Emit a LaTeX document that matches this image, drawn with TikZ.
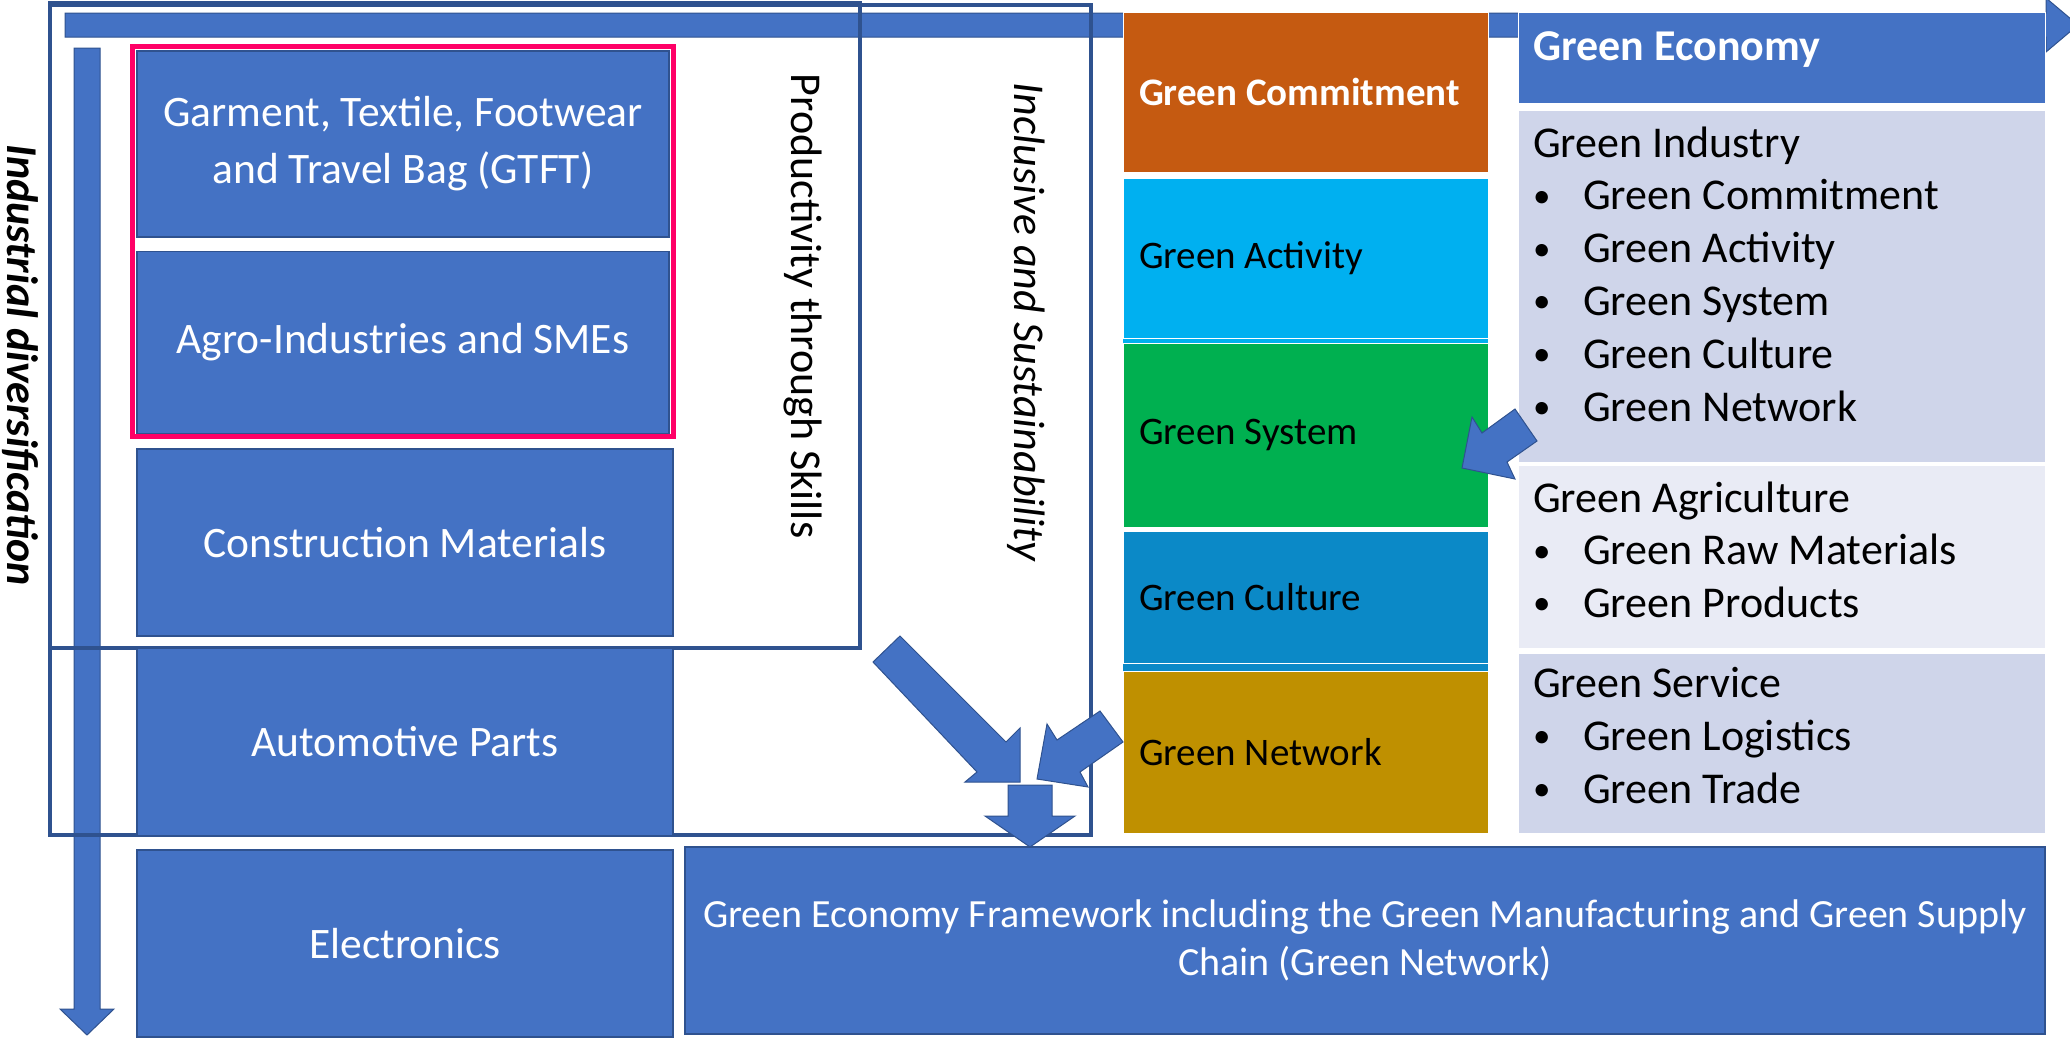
\documentclass[tikz,border=0pt]{standalone}
\usepackage{fontspec}
\setmainfont{Carlito}
\usetikzlibrary{positioning}
\definecolor{bluefill}{HTML}{4472C4}
\definecolor{blueline}{HTML}{2F528F}
\definecolor{pinkline}{HTML}{FF0066}
\definecolor{orangebox}{HTML}{C55A11}
\definecolor{cyanbox}{HTML}{00B0F0}
\definecolor{greenbox}{HTML}{00B050}
\definecolor{culturebox}{HTML}{0B89C7}
\definecolor{goldbox}{HTML}{BF9000}
\definecolor{panelA}{HTML}{CFD5EA}
\definecolor{panelB}{HTML}{E9EBF5}
\newcommand{\listbul}{\makebox[50pt][l]{\raisebox{2.5pt}{\fontsize{35}{35}\selectfont\textbullet}}}

\begin{document}
\begin{tikzpicture}[x=1pt,y=-1pt,
	sector/.style={draw=blueline,line width=1.5pt,fill=bluefill,text=white,align=center,
		font=\fontsize{43.5}{57}\selectfont,minimum width=536pt,minimum height=187pt,inner sep=0pt},
	pillar/.style={draw=white,line width=1pt,text width=333pt,inner xsep=16pt,inner ysep=0pt,
		align=flush left,font=\fontsize{39}{47}\selectfont},
	panel/.style={draw=white,line width=1pt,minimum width=527pt,inner sep=0pt},
	listline/.style={anchor=base west,inner sep=0pt,font=\fontsize{44}{53}\selectfont},
	sidelabel/.style={rotate=-90,inner sep=0pt,font=\fontsize{44}{53}\selectfont},
	frameline/.style={draw=blueline,line width=3.5pt},
	blockarrow/.style={fill=bluefill,draw=blueline,line width=1pt}]
	\useasboundingbox (0,0) rectangle (2070,1037);
	
	% long arrows
	\draw[blockarrow] (65,13) -- (2046,13) -- (2046,-2) -- (2078,25) -- (2046,52) -- (2046,37) -- (65,37) -- cycle;
	\draw[blockarrow] (74,48) -- (100,48) -- (100,1009) -- (114,1009) -- (87,1035) -- (60,1009) -- (74,1009) -- cycle;
	\node[sidelabel,font=\bfseries\itshape\fontsize{44}{53}\selectfont] (diversif) at (20,365) {Industrial diversification};
	
	% frames
	\draw[frameline] (50,3) rectangle (860,648);
	\draw[frameline] (50,5) rectangle (1091,835);
	\node[sidelabel] (skills) at (803,306) {Productivity through Skills};
	\node[sidelabel,font=\itshape\fontsize{44}{53}\selectfont] (inclusive) at (1026,322) {Inclusive and Sustainability};
	
	% sectors
	\node[sector,minimum width=532pt,minimum height=186pt] (gtft) at (403,144) {Garment, Textile, Footwear\\and Travel Bag (GTFT)};
	\node[sector,minimum width=532pt,minimum height=182pt,below=13pt of gtft] (agro) {Agro-Industries and SMEs};
	\draw[draw=pinkline,line width=5pt] (132,46) rectangle (673,436);
	\node[sector] (constr) at (405,542.5) {Construction Materials};
	\node[sector,below=11pt of constr] (auto) {Automotive Parts};
	\node[sector,below=13pt of auto] (elec) {Electronics};
	\node[sector,minimum width=1360pt,font=\fontsize{40}{48}\selectfont] (framework) at (1365,940.5)
		{Green Economy Framework including the Green Manufacturing and Green Supply\\Chain (Green Network)};
	
	% green pillars
	\fill[cyanbox] (1123,336) rectangle (1488,344);
	\fill[culturebox] (1123,661) rectangle (1488,672);
	\node[pillar,fill=orangebox,minimum height=160pt,text=white,font=\bfseries\fontsize{39}{47}\selectfont] (commit) at (1305.5,92) {Green Commitment};
	\node[pillar,fill=cyanbox,minimum height=160pt] (activity) at (1305.5,258) {Green Activity};
	\node[pillar,fill=greenbox,minimum height=184pt] (system) at (1305.5,435) {Green System};
	\node[pillar,fill=culturebox,minimum height=132pt] (culture) at (1305.5,597) {Green Culture};
	\node[pillar,fill=goldbox,minimum height=162pt] (network) at (1305.5,752) {Green Network};
	
	% green economy panels
	\node[panel,fill=bluefill,minimum height=91pt] (economy) at (1781.5,57.5) {};
	\node[panel,fill=panelA,minimum height=352pt] (industry) at (1781.5,286) {};
	\node[panel,fill=panelB,minimum height=183pt] (agri) at (1781.5,556.5) {};
	\node[panel,fill=panelA,minimum height=180pt] (service) at (1781.5,743) {};
	\node[listline,text=white,font=\bfseries\fontsize{44}{53}\selectfont] (ecotitle) at (1533,60) {Green Economy};
	\node[listline] (indtitle) at (1533,157) {Green Industry};
	\foreach \t [count=\i] in {Green Commitment,Green Activity,Green System,Green Culture,Green Network}
	\node[listline] (ind\i) at (1533,{157+52.8*\i}) {\listbul\t};
	\node[listline] (agrititle) at (1533,512) {Green Agriculture};
	\foreach \t [count=\i] in {Green Raw Materials,Green Products}
	\node[listline] (agri\i) at (1533,{512+52.5*\i}) {\listbul\t};
	\node[listline] (servtitle) at (1533,697) {Green Service};
	\foreach \t [count=\i] in {Green Logistics,Green Trade}
	\node[listline] (serv\i) at (1533,{697+53*\i}) {\listbul\t};
	
	% block arrows
	\draw[blockarrow] (873,662) -- (900,636) -- (1006,742) -- (1020,728) -- (1020,782) -- (965,782) -- (977,772) -- cycle;
	\draw[blockarrow] (1100,711) -- (1123,742) -- (1080,772) -- (1088,787) -- (1037,779) -- (1047,724) -- (1057,740) -- cycle;
	\draw[blockarrow] (1008,785) -- (1052,785) -- (1052,816) -- (1075,816) -- (1030,847) -- (985,816) -- (1008,816) -- cycle;
	\draw[blockarrow] (1515,409) -- (1537,441) -- (1507,462) -- (1515,479) -- (1462,468) -- (1472,417) -- (1482,433) -- cycle;
\end{tikzpicture}
\end{document}
